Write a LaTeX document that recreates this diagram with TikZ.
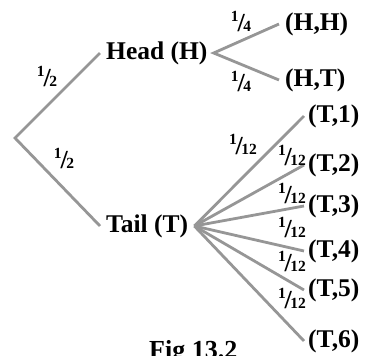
\documentclass[tikz,border=0pt]{standalone}
\usepackage{fontspec}
\setmainfont{Liberation Serif}
\definecolor{branch}{RGB}{150,150,150}
\newcommand\myfr[2]{\raisebox{10pt}{\fontsize{15.5}{15.5}\selectfont\bfseries #1}\kern-1.2pt{\fontsize{26}{26}\selectfont\bfseries /}\kern-1.5pt{\fontsize{15.5}{15.5}\selectfont\bfseries #2}}
\tikzset{
  br/.style={draw=branch, line width=2.8pt},
  lbl/.style={font=\fontsize{25.5}{25.5}\selectfont\bfseries, inner ysep=2pt},
  leaf/.style={lbl, anchor=west, inner xsep=4pt},
  prob/.style={inner sep=0pt}
}
\begin{document}
\begin{tikzpicture}[x=1pt,y=-1pt]
\useasboundingbox (0,0) rectangle (368,356);
\clip (0,0) rectangle (368,356);
\coordinate (root) at (15,138);
\node[lbl, anchor=west, inner xsep=6pt] (H) at (100,53) {Head (H)};
\node[lbl, anchor=west, inner xsep=6pt] (T) at (100,226) {Tail (T)};
\node[leaf, inner xsep=6pt] (HH) at (279,24) {(H,H)};
\node[leaf, inner xsep=6pt] (HT) at (279,80) {(H,T)};
\node[leaf] (T1) at (304,116) {(T,1)};
\node[leaf] (T2) at (304,165) {(T,2)};
\node[leaf] (T3) at (304,206) {(T,3)};
\node[leaf] (T4) at (304,251) {(T,4)};
\node[leaf] (T5) at (304,290) {(T,5)};
\node[leaf] (T6) at (304,341) {(T,6)};
\draw[br] (H.west) -- (root) -- (T.west);
\draw[br] (HH.west) -- (H.east) -- (HT.west);
\foreach \i in {1,...,6} { \draw[br] (T.east) -- (T\i.west); }
\node[prob] (p1) at (47,77) {\myfr{1}{2}};
\node[prob] (p2) at (64,159) {\myfr{1}{2}};
\node[prob] (p3) at (241,22) {\myfr{1}{4}};
\node[prob] (p4) at (241,82) {\myfr{1}{4}};
\node[prob] (q1) at (243,145) {\myfr{1}{12}};
\node[prob] (q2) at (292,156) {\myfr{1}{12}};
\node[prob] (q3) at (292,194) {\myfr{1}{12}};
\node[prob] (q4) at (292,228) {\myfr{1}{12}};
\node[prob] (q5) at (292,262) {\myfr{1}{12}};
\node[prob] (q6) at (292,299) {\myfr{1}{12}};
\node[font=\fontsize{26}{26}\selectfont\bfseries, anchor=base west, inner sep=0pt] (cap) at (149,359) {Fig 13.2};
\end{tikzpicture}
\end{document}
